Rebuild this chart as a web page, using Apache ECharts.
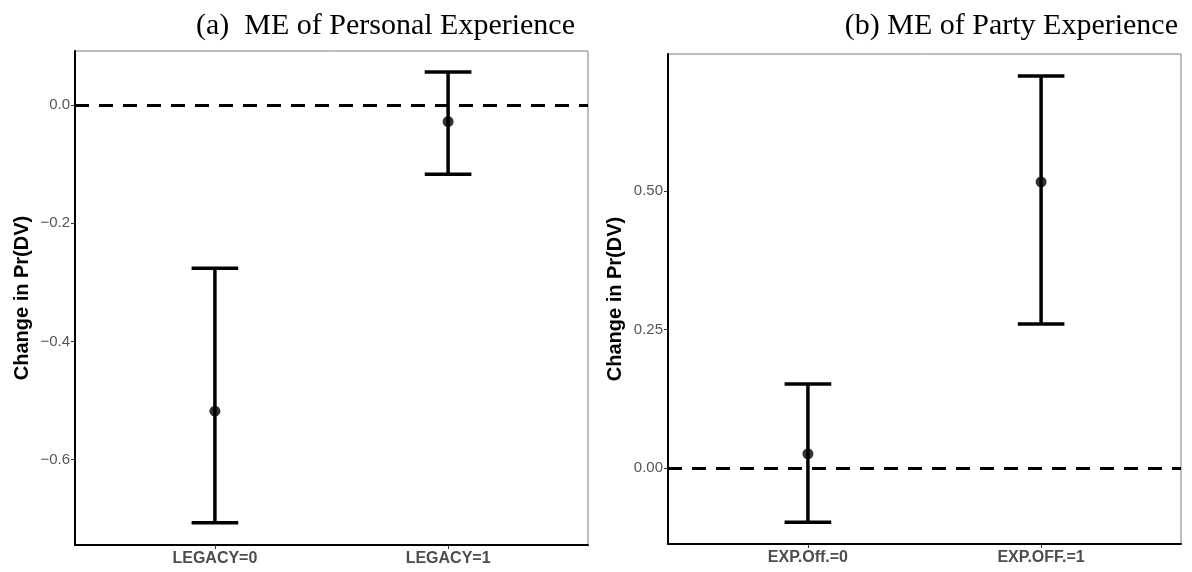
<!DOCTYPE html>
<html>
<head>
<meta charset="utf-8">
<script src="https://cdn.jsdelivr.net/npm/echarts@6/dist/echarts.min.js"></script>
<style>
  html, body { margin: 0; padding: 0; background: #fff; }
  #chart { width: 1192px; height: 572px; }
</style>
</head>
<body>
<div id="chart"></div>
<script>
// panel (a): marginal effect of personal experience
const catsA = ['LEGACY=0', 'LEGACY=1'];
const estA = [-0.518, -0.028];
const lowA = [-0.707, -0.117];
const highA = [-0.276, 0.056];
const ticksA = [-0.6, -0.4, -0.2, 0];

// panel (b): marginal effect of party experience
const catsB = ['EXP.Off.=0', 'EXP.OFF.=1'];
const estB = [0.026, 0.516];
const lowB = [-0.097, 0.260];
const highB = [0.152, 0.707];
const ticksB = [0, 0.25, 0.5];

const titles = ['(a)  ME of Personal Experience', '(b) ME of Party Experience'];
const yName = 'Change in Pr(DV)';

let chart = echarts.init(document.getElementById('chart'));

function errorBar(api) {
  let x = api.value(0);
  let lo = api.coord([x, api.value(1)]);
  let hi = api.coord([x, api.value(2)]);
  let half = api.size([0.2, 0])[0] / 2; // ggplot width = 0.2
  let style = { stroke: '#000', lineWidth: 3.5, fill: null };
  return {
    type: 'group',
    children: [
      { type: 'line', shape: { x1: lo[0], y1: lo[1], x2: hi[0], y2: hi[1] }, style: style },
      { type: 'line', shape: { x1: lo[0] - half, y1: lo[1], x2: lo[0] + half, y2: lo[1] }, style: style },
      { type: 'line', shape: { x1: hi[0] - half, y1: hi[1], x2: hi[0] + half, y2: hi[1] }, style: style }
    ]
  };
}

function xAxisFor(idx, cats) {
  return {
    type: 'value',
    gridIndex: idx,
    min: 0.4,
    max: 2.6,
    splitLine: { show: false },
    axisLine: { onZero: false, lineStyle: { color: '#000', width: 2 } },
    axisTick: { customValues: [1, 2], length: 4, lineStyle: { color: '#333' } },
    axisLabel: {
      customValues: [1, 2],
      formatter: v => cats[Math.round(v) - 1],
      color: '#4d4d4d',
      fontFamily: 'Liberation Sans, Arial',
      fontWeight: 'bold',
      fontSize: 16,
      margin: 6
    }
  };
}

function yAxisFor(idx, min, max, ticks, digits) {
  return {
    type: 'value',
    gridIndex: idx,
    min: min,
    max: max,
    name: yName,
    nameLocation: 'middle',
    nameGap: 43,
    nameRotate: 90,
    nameTextStyle: {
      color: '#000',
      fontFamily: 'Liberation Sans, Arial',
      fontWeight: 'bold',
      fontSize: 20
    },
    splitLine: { show: false },
    axisLine: { show: true, onZero: false, lineStyle: { color: '#000', width: 2 } },
    axisTick: { show: true, customValues: ticks, length: 4, lineStyle: { color: '#333' } },
    axisLabel: {
      customValues: ticks,
      formatter: v => v.toFixed(digits).replace('-', '\u2212'),
      color: '#555',
      fontFamily: 'Liberation Sans, Arial',
      fontSize: 15,
      margin: 5
    }
  };
}

function panelSeries(idx, est, low, high) {
  return [
    {
      type: 'custom',
      xAxisIndex: idx,
      yAxisIndex: idx,
      renderItem: (params, api) => errorBar(api),
      data: est.map((v, i) => [i + 1, low[i], high[i]]),
      z: 3,
      markLine: {
        silent: true,
        symbol: 'none',
        label: { show: false },
        lineStyle: { color: '#000', width: 3, type: [14, 10] },
        data: [{ yAxis: 0 }]
      }
    },
    {
      type: 'scatter',
      xAxisIndex: idx,
      yAxisIndex: idx,
      symbolSize: 11,
      itemStyle: { color: '#000' },
      data: est.map((v, i) => [i + 1, v]),
      z: 4
    }
  ];
}

const titleStyle = { fontFamily: 'Liberation Serif, serif', fontWeight: 'normal', fontSize: 30, color: '#000' };

chart.setOption({
  animation: false,
  title: [
    { text: titles[0], right: 612, top: 6, textStyle: titleStyle },
    { text: titles[1], right: 9, top: 6, textStyle: titleStyle }
  ],
  grid: [
    { left: 75, top: 51, width: 513, height: 494, show: true, borderColor: '#7f7f7f', borderWidth: 1 },
    { left: 668, top: 54, width: 513, height: 490, show: true, borderColor: '#7f7f7f', borderWidth: 1 }
  ],
  xAxis: [xAxisFor(0, catsA), xAxisFor(1, catsB)],
  yAxis: [
    yAxisFor(0, -0.7445, 0.0914, ticksA, 1),
    yAxisFor(1, -0.1364, 0.7465, ticksB, 2)
  ],
  series: panelSeries(0, estA, lowA, highA).concat(panelSeries(1, estB, lowB, highB))
});
</script>
</body>
</html>
